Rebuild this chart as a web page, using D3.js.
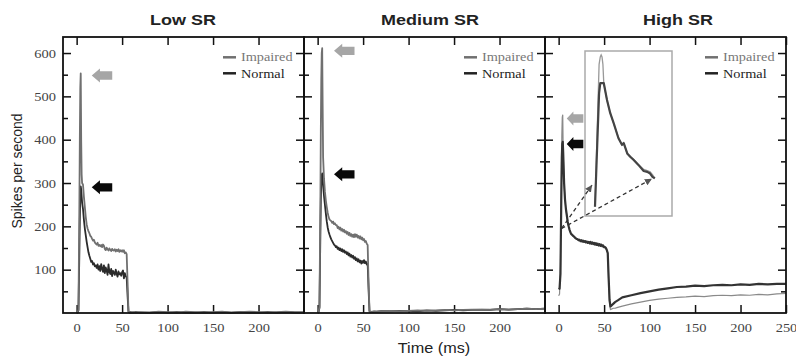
<!DOCTYPE html>
<html>
<head>
<meta charset="utf-8">
<script src="https://cdn.jsdelivr.net/npm/d3@7"></script>
<style>
  body { margin: 0; background: #fff; }
  svg { display: block; }
  .tick line { stroke: #111; stroke-width: 1.5; }
</style>
</head>
<body>
<div id="chart"></div>
<script>
// time base (ms), shared by every series
const time = [0,1,2,3,3.5,4,4.5,5,5.5,6,7,8,9,10,11,12,13,14,15,16,17,18,19,20,
  21,22,23,24,25,26,27,28,29,30,
  31,32,33,34,35,36,37,38,39,40,
  41,42,43,44,45,46,47,48,49,50,
  51,52,53,54,55,56,57,58,59,60,
  62,65,70,80,90,100,110,120,130,140,150,160,170,180,190,200,210,220,230,240,250];

const lowImpaired = [0,1,8,250,400,520,553,400,320,300,296,268,245,222,205,195,189,184,178,176,171,167,169,163,
  160,158,162,155,157,154,157,152,158,155,
  148,145,151,147,144,149,146,143,148,145,
  144,147,142,146,143,147,141,145,142,145,
  141,145,138,140,136,72,4,2,1,2,
  2,1,2,1,3,2,1,3,2,1,2,3,1,2,3,2,1,2,3,2,2];
const lowNormal = [0,1,6,140,215,270,292,285,270,255,240,215,195,180,165,152,140,132,125,118,120,112,115,108,
  110,104,112,100,108,97,113,102,95,110,
  92,105,98,88,112,95,90,102,85,97,
  93,88,100,90,84,96,89,92,86,94,
  98,80,92,85,82,40,3,1,2,1,
  1,2,1,1,2,1,2,1,1,2,1,2,1,2,1,1,2,1,2,1,1];

const medImpaired = [0,2,15,250,420,540,600,611,480,360,310,280,260,245,232,222,216,214,212,208,211,205,207,203,
  203,196,199,193,197,190,194,188,192,186,
  189,183,187,180,185,178,182,176,181,175,
  182,176,181,174,178,172,177,170,174,168,
  171,164,166,160,157,70,5,3,2,3,
  4,3,4,5,4,5,6,5,6,7,6,7,8,7,8,9,8,9,10,9,10];
const medNormal = [0,2,12,180,260,300,318,322,310,295,270,250,230,212,198,188,181,175,170,166,162,158,156,152,
  154,148,151,145,149,143,147,141,145,139,
  142,136,140,133,137,130,134,128,132,125,
  129,122,126,119,124,117,121,114,120,116,
  122,115,119,112,113,55,4,2,3,2,
  3,3,4,4,5,5,4,6,5,6,7,6,7,8,7,9,8,9,10,9,10];

const highImpaired = [40,44,110,300,410,452,457,372,336,301,261,239,226,209,201,191,187,181,181,177,177,173,173,170,
  169,167,170,165,167,166,166,163,167,162,
  164,163,163,160,165,159,162,160,161,157,
  160,158,159,155,160,154,157,155,155,151,
  151,149,144,139,75,20,8,9,10,11,
  11,13,16,21,25,29,32,34,36,37,39,38,40,41,40,42,41,43,42,44,45];
const highNormal = [58,56,90,280,360,390,395,370,335,300,262,240,225,210,200,192,186,182,180,178,176,174,172,171,
  170,168,169,166,168,165,167,164,166,163,
  165,162,164,161,164,160,163,159,162,158,
  161,157,160,156,159,155,158,154,156,152,
  152,150,145,138,80,30,15,17,19,21,
  25,29,36,41,46,50,54,57,60,61,63,62,64,65,64,66,65,67,66,67,67];

// inset: close-up of the High SR onset peak
const insetTime     = [2.6,3.3,3.5,3.65,3.8,3.95,4.1,4.65,5.2,5.8,6.6,7.2,7.5,8.1,8.6,9.2,10.0,10.9,11.5,12.0,12.4,12.8];
const insetImpaired = [93,440,458,463,458,440,394,352,322,295,261,243,249,222,216,208,196,184,181,178,171,163];
const insetNormal   = [93,370,394,394,394,394,394,353,321,296,260,244,248,223,215,207,195,180,178,174,166,162];

const titles = ["Low SR", "Medium SR", "High SR"];
const titleX = [183, 430, 678];
const xTicks = [0, 50, 100, 150, 200];
const xTicksLast = [0, 50, 100, 150, 200, 250];
const yMajor = [100, 200, 300, 400, 500, 600];
const yMinor = [50, 150, 250, 350, 450, 550];
const legendLabels = ["Impaired", "Normal"];

// block-arrow annotations (tip time in ms, value in spikes/s)
const arrowTime = [16.6, 18, 8.9];
const grayArrowValue = [548, 605, 449];
const blackArrowValue = [290, 320, 390];

const W = 796, H = 362;
const M = { left: 63, top: 37 };
const PW = 241, PH = 276;
const SX = 1.16; // reference text is stretched horizontally
const SERIF = '"Liberation Serif", Tinos, "Times New Roman", Times, serif';
const SANS = '"Liberation Sans", Arimo, Arial, Helvetica, sans-serif';

const svg = d3.select("#chart").append("svg").attr("width", W).attr("height", H);

const x = d3.scaleLinear().domain([-15, 250]).range([0, PW]);
const y = d3.scaleLinear().domain([0, 637]).range([PH, 0]);
const line = d3.line().x(d => x(d[0])).y(d => y(d[1]));

function stretch(sel, sx) {
  sel.each(function () {
    const t = d3.select(this);
    const tx = +t.attr("x") || 0, ty = +t.attr("y") || 0;
    t.attr("x", 0).attr("y", 0).attr("transform", `translate(${tx},${ty}) scale(${sx},1)`);
  });
}

function tickText(a) {
  a.attr("font-family", SERIF).attr("font-size", 12.5);
  a.selectAll("text").attr("fill", "#444").call(s => stretch(s, SX));
}

const panels = [
  { impaired: lowImpaired, normal: lowNormal, ticks: xTicks, order: ["normal", "impaired"] },
  { impaired: medImpaired, normal: medNormal, ticks: xTicks, order: ["normal", "impaired"] },
  { impaired: highImpaired, normal: highNormal, ticks: xTicksLast, order: ["impaired", "normal"] },
];

const styles = [
  { impaired: { c: "#707070", w: 1.8 }, normal: { c: "#2b2b2b", w: 1.8 } },
  { impaired: { c: "#707070", w: 1.8 }, normal: { c: "#2b2b2b", w: 1.8 } },
  { impaired: { c: "#8a8a8a", w: 1.2 }, normal: { c: "#333", w: 2.2 } },
];

const defs = svg.append("defs");
defs.append("marker").attr("id", "head").attr("viewBox", "0 0 10 10")
  .attr("refX", 10).attr("refY", 5).attr("markerWidth", 7).attr("markerHeight", 7)
  .attr("markerUnits", "userSpaceOnUse").attr("orient", "auto")
  .append("path").attr("d", "M0,0L10,5L0,10Z").attr("fill", "#555");

function blockArrow(w) {
  const hw = w * 0.4, hh = 7, th = 4.2;
  return `M0,0L${hw},${-hh}L${hw},${-th}L${w},${-th}L${w},${th}L${hw},${th}L${hw},${hh}Z`;
}

panels.forEach((p, i) => {
  const g = svg.append("g").attr("transform", `translate(${M.left + i * PW},${M.top})`);

  // axes, ticks pointing inward on all four sides
  g.append("g").attr("transform", `translate(0,${PH})`)
    .call(d3.axisBottom(x).tickValues(p.ticks).tickSize(-8).tickPadding(10))
    .call(a => a.select(".domain").remove())
    .call(tickText);
  g.append("g").call(d3.axisTop(x).tickValues(p.ticks).tickSize(-8).tickFormat(""))
    .call(a => a.select(".domain").remove());
  const left = d3.axisLeft(y).tickValues(yMajor).tickSize(-8).tickPadding(7);
  if (i > 0) left.tickFormat("");
  g.append("g").call(left)
    .call(a => a.select(".domain").remove())
    .call(tickText);
  g.append("g").call(d3.axisLeft(y).tickValues(yMinor).tickSize(-5).tickFormat(""))
    .call(a => a.select(".domain").remove());
  g.append("g").attr("transform", `translate(${PW},0)`)
    .call(d3.axisRight(y).tickValues(yMajor).tickSize(-8).tickFormat(""))
    .call(a => a.select(".domain").remove());
  g.append("g").attr("transform", `translate(${PW},0)`)
    .call(d3.axisRight(y).tickValues(yMinor).tickSize(-5).tickFormat(""))
    .call(a => a.select(".domain").remove());

  // curves
  p.order.forEach(k => {
    g.append("path").datum(d3.zip(time, p[k]))
      .attr("d", line).attr("fill", "none")
      .attr("stroke", styles[i][k].c).attr("stroke-width", styles[i][k].w)
      .attr("stroke-linejoin", "round");
  });

  // inset for High SR
  if (i === 2) {
    const ix = d3.scaleLinear().domain([2.5, 13]).range([49.4, 111]);
    const iy = d3.scaleLinear().domain([90, 470]).range([171, 15]);
    const iline = d3.line().x(d => ix(d[0])).y(d => iy(d[1]));
    g.append("rect").attr("x", 40).attr("y", 14).attr("width", 87).attr("height", 165)
      .attr("fill", "#fff").attr("stroke", "#aaa").attr("stroke-width", 1.5);
    g.append("path").datum(d3.zip(insetTime, insetImpaired)).attr("d", iline)
      .attr("fill", "none").attr("stroke", "#999").attr("stroke-width", 1.3);
    g.append("path").datum(d3.zip(insetTime, insetNormal)).attr("d", iline)
      .attr("fill", "none").attr("stroke", "#444").attr("stroke-width", 2.2).attr("stroke-linejoin", "round");
    const sx0 = x(3.2), sy0 = y(195);
    [[2.1, 146], [12.3, 161]].forEach(([t, v]) => {
      g.append("line").attr("x1", sx0).attr("y1", sy0).attr("x2", ix(t)).attr("y2", iy(v))
        .attr("stroke", "#333").attr("stroke-width", 1.3).attr("stroke-dasharray", "4,3")
        .attr("marker-end", "url(#head)");
    });
  }

  // block arrows pointing at the peaks
  const aw = i === 2 ? 16.6 : 20.5;
  g.append("path").attr("d", blockArrow(aw)).attr("fill", "#a6a6a6")
    .attr("transform", `translate(${x(arrowTime[i])},${y(grayArrowValue[i])})`);
  g.append("path").attr("d", blockArrow(aw)).attr("fill", "#0a0a0a")
    .attr("transform", `translate(${x(arrowTime[i])},${y(blackArrowValue[i])})`);

  // legend
  const lg = g.append("g").attr("transform", `translate(${PW},0)`);
  legendLabels.forEach((lab, j) => {
    const col = j === 0 ? "#777" : "#222";
    lg.append("line").attr("x1", -81).attr("x2", -68).attr("y1", 20.3 + j * 16).attr("y2", 20.3 + j * 16)
      .attr("stroke", j === 0 ? "#707070" : "#222").attr("stroke-width", 2.5);
    lg.append("text").attr("x", -63).attr("y", 24 + j * 17).text(lab)
      .attr("font-family", SERIF)
      .attr("font-size", 13).attr("fill", col)
      .call(s => stretch(s, 1.1));
  });

  // frame
  g.append("rect").attr("width", PW).attr("height", PH)
    .attr("fill", "none").attr("stroke", "#111").attr("stroke-width", 1.8);

  // title
  svg.append("text").attr("x", titleX[i]).attr("y", 25).text(titles[i])
    .attr("text-anchor", "middle").attr("font-family", SANS)
    .attr("font-weight", "bold").attr("font-size", 15.5).attr("fill", "#222")
    .call(s => stretch(s, SX));
});

svg.append("text").attr("x", 434).attr("y", 353).text("Time (ms)")
  .attr("text-anchor", "middle").attr("font-family", SANS)
  .attr("font-size", 14).attr("fill", "#222")
  .call(s => stretch(s, SX));

svg.append("text").text("Spikes per second")
  .attr("transform", "translate(22,171) rotate(-90)")
  .attr("text-anchor", "middle").attr("font-family", SANS)
  .attr("font-size", 14).attr("fill", "#222");
</script>
</body>
</html>
